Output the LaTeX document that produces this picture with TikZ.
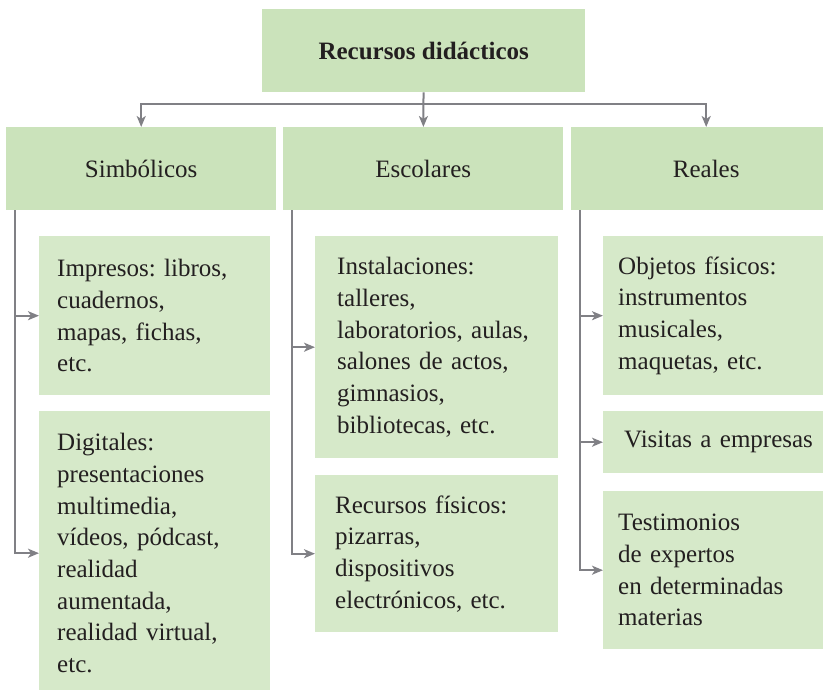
\documentclass[tikz,border=0pt]{standalone}
\usepackage{fontspec}
\setmainfont{Liberation Serif}
\usetikzlibrary{arrows.meta,positioning}
\definecolor{headgreen}{HTML}{CBE3BB}
\definecolor{boxgreen}{HTML}{D6E9C9}
\definecolor{linegray}{HTML}{808085}
\definecolor{inkblack}{HTML}{231F20}
\tikzset{
	head/.style={fill=headgreen, anchor=north west, inner sep=0pt, text=inkblack, font=\fontsize{25}{31.7}\selectfont},
	item/.style={fill=boxgreen, anchor=north west, inner xsep=18pt, inner ysep=0pt, align=left, text=inkblack, font=\fontsize{25}{31.7}\selectfont},
	link/.style={draw=linegray, line width=2pt, -{Stealth[length=11pt,width=9pt,inset=3pt]}}
}
\frenchspacing
\begin{document}
\begin{tikzpicture}[x=1pt, y=-1pt]
		\useasboundingbox (0,0) rectangle (823,690);
		\clip (0,0) rectangle (823,690);
		%title and the three groups
		\node (title) at (262,9) [head, minimum width=323pt, minimum height=83pt]{\textbf{Recursos didácticos}};
		\node (simb) at (6,127) [head, minimum width=270pt, minimum height=83pt]{Simbólicos};
		\node (esc) at (283,127) [head, minimum width=280pt, minimum height=83pt]{Escolares};
		\node (real) at (571,127) [head, minimum width=270pt, minimum height=83pt]{Reales};
		
		%simbolicos
		\node (impresos) at (39,236) [item, text width=195pt, minimum height=159pt]{Impresos: libros,\\ cuadernos,\\ mapas, fichas,\\ etc.};
		\node (digitales) at (39,411) [item, text width=195pt, minimum height=284pt]{Digitales:\\ presentaciones\\ multimedia,\\ vídeos, pódcast,\\ realidad\\ aumentada,\\ realidad virtual,\\ etc.};
		
		%escolares
		\node (instal) at (315,236) [item, inner xsep=22pt, text width=199pt, minimum height=222pt]{Instalaciones:\\ talleres,\\ laboratorios, aulas,\\ salones de actos,\\ gimnasios,\\ bibliotecas, etc.};
		\node (fisicos) at (315,475) [item, inner xsep=20pt, text width=203pt, minimum height=157pt]{Recursos físicos:\\ pizarras,\\ dispositivos\\ electrónicos, etc.};
		
		%reales
		\node (objetos) at (603,236) [item, inner xsep=15pt, text width=210pt, minimum height=159pt]{Objetos físicos:\\ instrumentos\\ musicales,\\ maquetas, etc.};
		\node (visitas) at (603,411) [item, inner xsep=21pt, text width=198pt, minimum height=62pt]{Visitas a empresas};
		\node (testim) at (603,491) [item, inner xsep=15pt, text width=210pt, minimum height=158pt]{Testimonios\\ de expertos\\ en determinadas\\ materias};
		
		%top connectors
		\coordinate (split) at (423,104);
		\draw[link] (title) -- (esc);
		\draw[link] (split) -| (simb.north);
		\draw[link] (split) -| (real.north);
		
		%branches
		\coordinate (simbtrunk) at ([xshift=9pt]simb.south west);
		\coordinate (esctrunk) at ([xshift=9pt]esc.south west);
		\coordinate (realtrunk) at ([xshift=9pt]real.south west);
		\foreach \trunk/\leaf in {simbtrunk/impresos, simbtrunk/digitales, esctrunk/instal, esctrunk/fisicos, realtrunk/objetos, realtrunk/visitas, realtrunk/testim}{
			\draw[link] (\trunk) |- (\leaf.west);
		}
\end{tikzpicture}
\end{document}
